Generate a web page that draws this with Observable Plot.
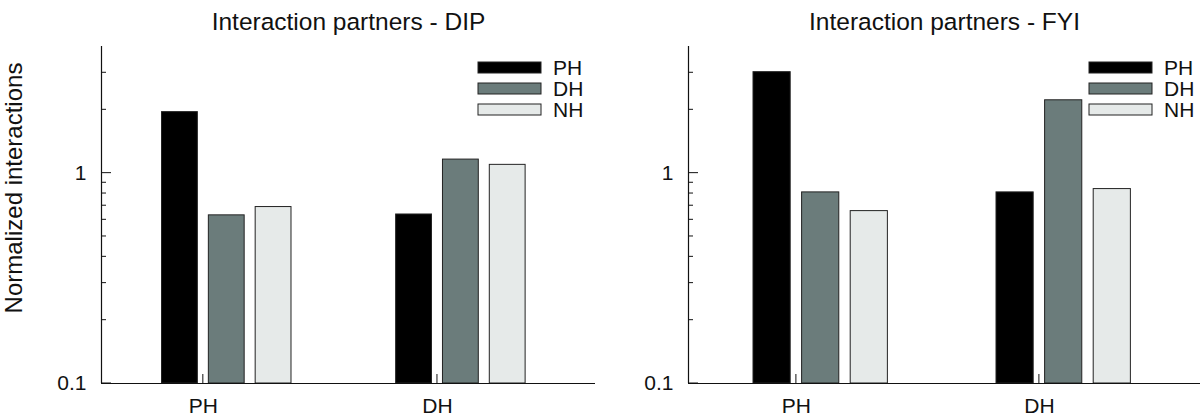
<!DOCTYPE html>
<html><head><meta charset="utf-8">
<script src="https://cdn.jsdelivr.net/npm/d3@7"></script>
<script src="https://cdn.jsdelivr.net/npm/@observablehq/plot@0.6"></script>
<style>
body{margin:0;background:#fff}
#wrap{display:flex;width:1200px;height:417px;overflow:hidden}
svg{font-family:"Liberation Sans",Arial,Helvetica,sans-serif}
</style>
</head><body><div id="wrap"></div>
<script>
// ---- data ----
const groups = ["PH", "DH"];               // x categories
const series = ["PH", "DH", "NH"];         // bar series (legend)
const dipPH = [1.95, 0.63, 0.69];          // DIP, group PH: PH, DH, NH
const dipDH = [0.636, 1.16, 1.095];        // DIP, group DH
const fyiPH = [3.02, 0.81, 0.66];          // FYI, group PH
const fyiDH = [0.81, 2.22, 0.84];          // FYI, group DH
const titles = ["Interaction partners - DIP", "Interaction partners - FYI"];
const yLabel = "Normalized interactions";
const yMajorTicks = [0.1, 1];
const yMajorLabels = ["0.1", "1"];
const yMinorTicks = [0.2, 0.3, 0.4, 0.5, 0.6, 0.7, 0.8, 0.9, 2, 3];
const colors = ["#000000", "#6b7c7b", "#e6eae9"];

function rows(a, b) {
  const out = [];
  [a, b].forEach((vals, gi) => vals.forEach((v, si) => out.push({group: groups[gi], gi, series: series[si], si, value: v})));
  return out;
}

const offsets = [-0.1, 0.1, 0.3];
const bw = 0.153;
const FONT = '"Liberation Sans",Arial,Helvetica,sans-serif';

function panel({data, title, marginLeft, marginRight, xDomain, legendX, showYLabel}) {
  const svg = Plot.plot({
    width: 600, height: 417,
    marginLeft, marginRight, marginTop: 46, marginBottom: 34,
    style: {fontFamily: FONT, background: "white", overflow: "visible"},
    x: {type: "linear", domain: xDomain, axis: null},
    y: {type: "log", domain: [0.1, 4], axis: null},
    color: {domain: series, range: colors},
    marks: [
      Plot.rect(data, {
        x1: d => d.gi + 1 + offsets[d.si] - bw / 2,
        x2: d => d.gi + 1 + offsets[d.si] + bw / 2,
        y1: 0.1, y2: "value", fill: "series", stroke: "#222", strokeWidth: 1
      }),
      Plot.ruleX([xDomain[0]], {y1: 0.1, y2: 4, stroke: "#111", strokeWidth: 1.2}),
      Plot.ruleY([0.1], {stroke: "#111", strokeWidth: 1.2}),
      Plot.text(yMajorTicks, {x: xDomain[0], y: d => d, text: (d, i) => yMajorLabels[i], textAnchor: "end", dx: -15, fontSize: 21, fill: "#111"}),
      Plot.text(groups, {x: (d, i) => i + 1, y: 0.1, text: d => d, dy: 23, fontSize: 21, fill: "#111"}),
      Plot.text([title], {frameAnchor: "top", dy: -34, fontSize: 24.5, fill: "#111"}),
      showYLabel ? Plot.text([yLabel], {frameAnchor: "left", textAnchor: "middle", dx: -87, dy: -27, rotate: -90, fontSize: 24, fill: "#111"}) : null
    ]
  });
  const xs = svg.scale("x"), ys = svg.scale("y");
  const x0 = xs.apply(xDomain[0]);
  const g = d3.select(svg).append("g").attr("stroke", "#111").attr("stroke-width", 1);
  for (const v of yMajorTicks) { const y = ys.apply(v); g.append("line").attr("x1", x0).attr("x2", x0 + 10).attr("y1", y).attr("y2", y); }
  for (const v of yMinorTicks) { const y = ys.apply(v); g.append("line").attr("x1", x0).attr("x2", x0 + 5).attr("y1", y).attr("y2", y); }
  const yb = ys.apply(0.1);
  groups.forEach((_, i) => { const x = xs.apply(i + 1); g.append("line").attr("x1", x).attr("x2", x).attr("y1", yb).attr("y2", yb - 9); });
  // legend
  const lg = d3.select(svg).append("g").attr("text-anchor", "start");
  series.forEach((s, i) => {
    const y = 62 + i * 21;
    lg.append("rect").attr("x", legendX).attr("y", y).attr("width", 63).attr("height", 11)
      .attr("fill", colors[i]).attr("stroke", "#222").attr("stroke-width", 1);
    lg.append("text").attr("x", legendX + 75).attr("y", y + 5.5).attr("dy", "0.36em")
      .attr("text-anchor", "start").attr("font-size", 21).attr("fill", "#111").attr("font-family", FONT).text(s);
  });
  return svg;
}

const wrap = document.getElementById("wrap");
wrap.appendChild(panel({data: rows(dipPH, dipDH), title: titles[0], marginLeft: 101, marginRight: 5, xDomain: [0.565, 2.675], legendX: 478, showYLabel: true}));
wrap.appendChild(panel({data: rows(fyiPH, fyiDH), title: titles[1], marginLeft: 88, marginRight: 0, xDomain: [0.556, 2.663], legendX: 489, showYLabel: false}));
</script>
</body></html>
